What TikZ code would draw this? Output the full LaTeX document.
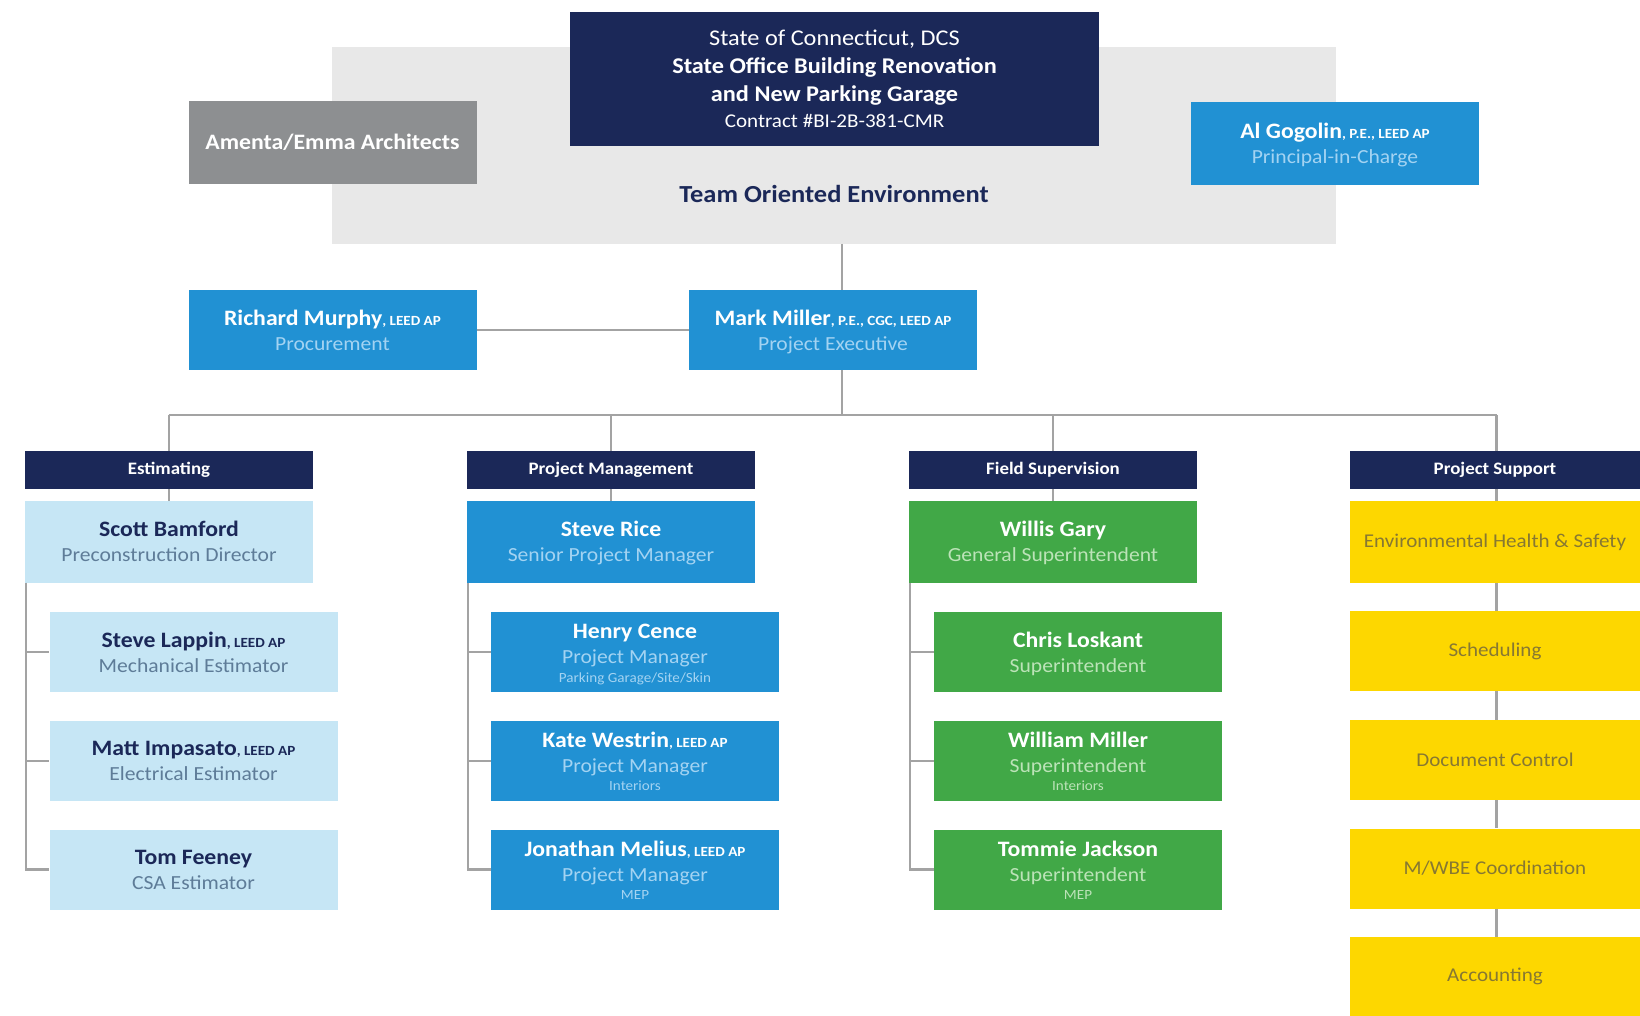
\documentclass[tikz,border=0pt]{standalone}
\usepackage{fontspec}
\setmainfont{Carlito}[FakeStretch=1.08]
\definecolor{navy}{HTML}{1B2858}
\definecolor{cblue}{HTML}{2191D3}
\definecolor{bluesub}{HTML}{A3D3F2}
\definecolor{lblue}{HTML}{C6E6F5}
\definecolor{lbluesub}{HTML}{5E7C98}
\definecolor{cgreen}{HTML}{41A847}
\definecolor{greensub}{HTML}{BCE3B8}
\definecolor{cyellow}{HTML}{FDD700}
\definecolor{yellowtxt}{HTML}{877832}
\definecolor{boxgrey}{HTML}{8D8F91}
\definecolor{bggrey}{HTML}{E8E8E8}
\definecolor{linegrey}{HTML}{A3A3A3}
\newcommand\tp{\rule{0pt}{20pt}}
\newcommand\btw{\rule[-5pt]{0pt}{5pt}}
\newcommand\btt{\rule[-3.5pt]{0pt}{3.5pt}}
\newcommand\nm[1]{\tp{\fontsize{22}{25}\bfseries #1}}
\newcommand\sfx[1]{{\fontsize{14}{25}\bfseries #1}}
\newcommand\ttl[1]{{\color{subc}#1}}
\newcommand\ttlb[1]{{\color{subc}#1}\btw}
\newcommand\loc[1]{{\color{subc}\fontsize{14}{16}\selectfont #1}\btt}
\begin{document}
\begin{tikzpicture}[x=1pt,y=-1pt,
  box/.style={rectangle, inner sep=0pt, minimum width=288pt, minimum height=80pt, align=center,
    font=\fontsize{20}{25}\selectfont},
  bluebox/.style={box, fill=cblue, text=white, execute at begin node={\colorlet{subc}{bluesub}}},
  lbbox/.style={box, fill=lblue, text=navy, execute at begin node={\colorlet{subc}{lbluesub}}},
  greenbox/.style={box, fill=cgreen, text=white, execute at begin node={\colorlet{subc}{greensub}}},
  yellowbox/.style={box, fill=cyellow, text=yellowtxt, font=\fontsize{19.5}{22}\selectfont},
  headbox/.style={rectangle, inner sep=0pt, minimum width=288pt, minimum height=38pt, fill=navy,
    text=white, font=\fontsize{17.5}{18}\bfseries},
  conn/.style={draw=linegrey, line width=2.6pt}]
\useasboundingbox[fill=white] (0,0) rectangle (1640,1016);

% top block
\node[rectangle, inner sep=0pt, fill=bggrey, minimum width=1004pt, minimum height=197pt] (env) at (833.5,145.3) {};
\node[rectangle, inner sep=0pt, fill=navy, text=white, align=center, minimum width=529pt, minimum height=133.5pt,
  font=\fontsize{22.5}{28}\selectfont] (client) at (834.5,79)
  {State of Connecticut, DCS\\ \textbf{State Office Building Renovation}\\ \textbf{and New Parking Garage}\\[-2pt]
   {\fontsize{19.5}{20}\selectfont Contract \#BI-2B-381-CMR}};
\node[text=navy, font=\fontsize{24.5}{26}\bfseries] (team) at (834,193.5) {Team Oriented Environment};
\node[box, fill=boxgrey, text=white, minimum height=83pt, font=\fontsize{22}{24}\bfseries] (amenta) at (332.5,142.5) {Amenta/Emma Architects};
\node[bluebox, minimum height=83pt] (gogolin) at (1335,143.5) {\nm{Al Gogolin}\sfx{, P.E., LEED AP}\\ \ttlb{Principal-in-Charge}};

% second row
\node[bluebox] (murphy) at (332.5,330) {\nm{Richard Murphy}\sfx{, LEED AP}\\ \ttlb{Procurement}};
\node[bluebox] (mark) at (833,330) {\nm{Mark Miller}\sfx{, P.E., CGC, LEED AP}\\ \ttlb{Project Executive}};

% headers
\node[headbox] (h1) at (169,470) {Estimating};
\node[headbox] (h2) at (611,470) {Project Management};
\node[headbox] (h3) at (1053,470) {Field Supervision};
\node[headbox, minimum width=290pt] (h4) at (1495,470) {Project Support};

% estimating
\node[lbbox, minimum height=81.5pt] (e0) at (169,541.8) {\nm{Scott Bamford}\\ \ttlb{Preconstruction Director}};
\node[lbbox] (e1) at (193.5,652) {\nm{Steve Lappin}\sfx{, LEED AP}\\ \ttlb{Mechanical Estimator}};
\node[lbbox] (e2) at (193.5,760.8) {\nm{Matt Impasato}\sfx{, LEED AP}\\ \ttlb{Electrical Estimator}};
\node[lbbox] (e3) at (193.5,869.5) {\nm{Tom Feeney}\\ \ttlb{CSA Estimator}};

% project management
\node[bluebox, minimum height=81.5pt] (p0) at (611,541.8) {\nm{Steve Rice}\\ \ttlb{Senior Project Manager}};
\node[bluebox] (p1) at (635,652) {\nm{Henry Cence}\\ \ttl{Project Manager}\\[-6.5pt] \loc{Parking Garage/Site/Skin}};
\node[bluebox] (p2) at (635,760.8) {\nm{Kate Westrin}\sfx{, LEED AP}\\ \ttl{Project Manager}\\[-6.5pt] \loc{Interiors}};
\node[bluebox] (p3) at (635,869.5) {\nm{Jonathan Melius}\sfx{, LEED AP}\\ \ttl{Project Manager}\\[-6.5pt] \loc{MEP}};

% field supervision
\node[greenbox, minimum height=81.5pt] (f0) at (1053,541.8) {\nm{Willis Gary}\\ \ttlb{General Superintendent}};
\node[greenbox] (f1) at (1078,652) {\nm{Chris Loskant}\\ \ttlb{Superintendent}};
\node[greenbox] (f2) at (1078,760.8) {\nm{William Miller}\\ \ttl{Superintendent}\\[-6.5pt] \loc{Interiors}};
\node[greenbox] (f3) at (1078,869.5) {\nm{Tommie Jackson}\\ \ttl{Superintendent}\\[-6.5pt] \loc{MEP}};

% project support
\node[yellowbox, minimum width=290pt, minimum height=81.5pt] (s0) at (1495,541.8) {Environmental Health \& Safety};
\node[yellowbox, minimum width=290pt] (s1) at (1495,651) {Scheduling};
\node[yellowbox, minimum width=290pt] (s2) at (1495,760) {Document Control};
\node[yellowbox, minimum width=290pt] (s3) at (1495,868.5) {M/WBE Coordination};
\node[yellowbox, minimum width=290pt, minimum height=79pt] (s4) at (1495,976.5) {Accounting};

% connectors
\coordinate (trunk) at (842,415);
\coordinate (busL) at (168.5,415);
\coordinate (busR) at (1496.7,415);
\draw[conn] (env.south -| trunk) -- (mark.north -| trunk);
\draw[conn] (murphy.east) -- (mark.west);
\draw[conn] (mark.south -| trunk) -- (trunk);
\draw[conn] (busL) -- (busR);
\foreach \h in {h1,h2,h3}{\draw[conn] (\h.north) -- (\h.north |- busL);}
\draw[conn] (busR) -- (busR |- h4.north);
\draw[conn] (h1.south) -- (e0.north);
\draw[conn] (h2.south) -- (p0.north);
\draw[conn] (h3.south) -- (f0.north);
\draw[conn] (h4.south -| busR) -- (s0.north -| busR);
\foreach \a/\b in {s0/s1,s1/s2,s2/s3,s3/s4}{\draw[conn] (\a.south -| busR) -- (\b.north -| busR);}
\foreach \t in {e1,e2,e3}{\draw[conn] ([xshift=1.3pt]e0.south west) |- (\t.west);}
\foreach \t in {p1,p2,p3}{\draw[conn] ([xshift=1.3pt]p0.south west) |- (\t.west);}
\foreach \t in {f1,f2,f3}{\draw[conn] ([xshift=1.3pt]f0.south west) |- (\t.west);}
\end{tikzpicture}
\end{document}
